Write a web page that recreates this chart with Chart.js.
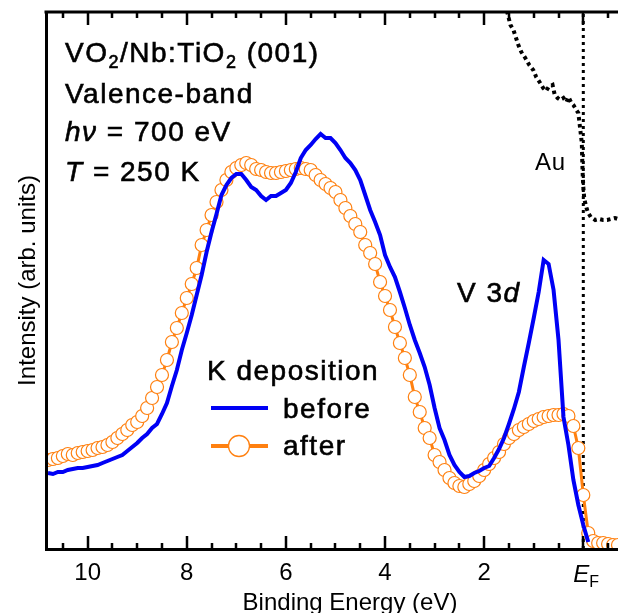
<!DOCTYPE html>
<html>
<head>
<meta charset="utf-8">
<script src="https://cdn.jsdelivr.net/npm/chart.js@4.4.1/dist/chart.umd.min.js"></script>
<style>
    html, body {margin: 0; padding: 0; background: #fff;}
</style>
</head>
<body>
<canvas id="vb-chart" width="618" height="613"></canvas>
<script>
// binding energy grid (eV) of the valence-band spectra
const energy = [10.8, 10.7, 10.6, 10.5, 10.4, 10.3, 10.2, 10.1, 10.0, 9.9, 9.8, 9.7, 9.6, 9.5, 9.4, 9.3, 9.2, 9.1, 9.0,
    8.9, 8.8, 8.7, 8.6, 8.5, 8.4, 8.3, 8.2, 8.1, 8.0, 7.9, 7.8, 7.7, 7.6, 7.5, 7.4, 7.3, 7.2, 7.1, 7.0,
    6.9, 6.8, 6.7, 6.6, 6.5, 6.4, 6.3, 6.2, 6.1, 6.0, 5.9, 5.8, 5.7, 5.6, 5.5, 5.4, 5.3, 5.2, 5.1, 5.0,
    4.9, 4.8, 4.7, 4.6, 4.5, 4.4, 4.3, 4.2, 4.1, 4.0, 3.9, 3.8, 3.7, 3.6, 3.5, 3.4, 3.3, 3.2, 3.1, 3.0,
    2.9, 2.8, 2.7, 2.6, 2.5, 2.4, 2.3, 2.2, 2.1, 2.0, 1.9, 1.8, 1.7, 1.6, 1.5, 1.4, 1.3, 1.2, 1.1, 1.0,
    0.9, 0.8, 0.7, 0.6, 0.5, 0.4, 0.3, 0.2, 0.1, 0.0, -0.1, -0.2, -0.3, -0.4, -0.5, -0.6, -0.7];

// intensity before K deposition (ends at -0.1 eV)
const beforeK = [76, 75, 77, 77, 79, 80, 81, 81, 82, 83, 84, 86, 88, 90, 92, 94, 98, 102, 106,
    111, 115, 121, 125, 135, 146, 163, 179, 199, 216, 234, 254, 274, 297, 317, 335, 354, 364, 371, 375,
    375, 369, 362, 359, 353, 349, 353, 353, 356, 359, 366, 377, 391, 399, 404, 410, 415, 411, 411, 406,
    399, 391, 386, 379, 369, 354, 339, 327, 314, 294, 282, 272, 257, 241, 224, 209, 196, 182, 164, 141,
    121, 109, 94, 84, 77, 72, 73, 76, 78, 81, 83, 91, 100, 111, 125, 140, 157, 182, 206, 231,
    257, 289, 285, 259, 209, 132, 104, 69, 44, 24, 7];

// intensity after K deposition
const afterK = [89, 90, 91, 93, 95, 94, 96, 97, 98, 99, 101, 102, 104, 107, 111, 115, 119, 124, 127,
    133, 141, 151, 162, 174, 189, 207, 221, 236, 251, 265, 281, 304, 319, 334, 347, 359, 369, 377, 381,
    384, 386, 384, 380, 379, 377, 376, 376, 377, 378, 379, 380, 381, 380, 379, 374, 369, 365, 361, 357,
    349, 341, 333, 325, 317, 304, 296, 285, 267, 253, 239, 222, 206, 191, 174, 152, 137, 121, 111, 94,
    87, 79, 71, 66, 63, 62, 65, 68, 73, 79, 85, 91, 97, 105, 111, 115, 119, 122, 125, 128,
    130, 132, 133, 134, 134, 135, 133, 123, 101, 54, 16, 8, 6, 6, 5, 4, 4];

// Au reference edge
const auEnergy = [1.56, 1.53, 1.47, 1.41, 1.35, 1.31, 1.25, 1.17, 1.09, 1.01, 0.95, 0.87, 0.81, 0.75, 0.70,
    0.62, 0.58, 0.52, 0.46, 0.40, 0.34, 0.30, 0.24, 0.20, 0.14, 0.10, 0.06, 0.03, 0.02, 0.01, 0.0,
    -0.02, -0.04, -0.07, -0.10, -0.15, -0.24, -0.32, -0.40, -0.48, -0.56, -0.64, -0.70];
const auIntensity = [545, 536, 524, 519, 510, 504, 497, 491, 484, 479, 472, 466, 461, 458, 462,
    464, 455, 451, 449, 451, 447, 452, 446, 444, 439, 436, 419, 406, 386, 372, 362,
    350, 346, 340, 336, 332, 329, 330, 329, 329, 330, 331, 330];

const xTickValues = [10, 8, 6, 4, 2, 0];
const xMinorTicks = [10.5, 10, 9.5, 9, 8.5, 8, 7.5, 7, 6.5, 6, 5.5, 5, 4.5, 4, 3.5, 3, 2.5, 2, 1.5, 1, 0.5, 0, -0.5];

const FONT = '"Liberation Sans", Arial, Helvetica, sans-serif';
const blueColor = '#0000f5';
const orangeColor = '#ff8010';

function toPoints(xs, ys) {
    return ys.map((y, i) => ({x: xs[i], y: y}));
}

// draws mixed italic / subscript text, optional faux-medium stroke
function drawRich(ctx, x, y, parts, size, heavy) {
    ctx.textAlign = 'left';
    ctx.textBaseline = 'alphabetic';
    ctx.lineWidth = heavy ? 0.6 : 0;
    ctx.strokeStyle = '#000';
    parts.forEach(p => {
        const s = p.sub ? Math.round(size * 0.66) : size;
        ctx.font = (p.italic ? 'italic ' : '') + s + 'px ' + FONT;
        const yy = y + (p.sub ? size * 0.22 : 0);
        ctx.fillText(p.t, x, yy);
        if (heavy) ctx.strokeText(p.t, x, yy);
        x += ctx.measureText(p.t).width;
    });
}

const frameAndText = {
    id: 'frameAndText',
    afterDraw(chart) {
        const {ctx, chartArea: a, scales: {x}} = chart;
        ctx.save();
        ctx.strokeStyle = '#000';
        ctx.fillStyle = '#000';

        // top frame line
        ctx.lineWidth = 3;
        ctx.beginPath();
        ctx.moveTo(a.left - 1.5, a.top);
        ctx.lineTo(a.right, a.top);
        ctx.stroke();

        // inward ticks on top and bottom
        ctx.lineWidth = 2.5;
        xMinorTicks.forEach(v => {
            const px = Math.round(x.getPixelForValue(v));
            const len = xTickValues.includes(v) ? 13 : 6;
            ctx.beginPath();
            ctx.moveTo(px, a.bottom);
            ctx.lineTo(px, a.bottom - len);
            ctx.moveTo(px, a.top);
            ctx.lineTo(px, a.top + len);
            ctx.stroke();
        });

        // E_F tick label
        const efX = x.getPixelForValue(0);
        drawRich(ctx, efX - 10, 582, [{t: 'E', italic: true}, {t: 'F', sub: true}], 24);

        // x axis title
        ctx.font = '24px ' + FONT;
        ctx.textAlign = 'center';
        ctx.fillText('Binding Energy (eV)', 350, 610);

        // annotations
        ctx.letterSpacing = '1.5px';
        drawRich(ctx, 65, 62, [{t: 'VO'}, {t: '2', sub: true}, {t: '/Nb:TiO'}, {t: '2', sub: true}, {t: ' (001)'}], 28, true);
        drawRich(ctx, 65, 103, [{t: 'Valence-band'}], 28, true);
        drawRich(ctx, 65, 141, [{t: 'h', italic: true}, {t: 'ν', italic: true}, {t: ' = 700 eV'}], 28, true);
        drawRich(ctx, 65, 181, [{t: 'T', italic: true}, {t: ' = 250 K'}], 28, true);
        drawRich(ctx, 457, 302, [{t: 'V 3'}, {t: 'd', italic: true}], 28, true);
        ctx.letterSpacing = '0.8px';
        drawRich(ctx, 535, 170, [{t: 'Au'}], 24, false);

        // legend
        const ds = chart.data.datasets;
        ctx.letterSpacing = '1.5px';
        drawRich(ctx, 207, 380, [{t: 'K deposition'}], 28, true);
        ctx.letterSpacing = '0px';
        ctx.lineWidth = 4;
        ctx.strokeStyle = ds[0].borderColor;
        ctx.beginPath();
        ctx.moveTo(211, 408);
        ctx.lineTo(268, 408);
        ctx.stroke();
        ctx.strokeStyle = ds[1].borderColor;
        ctx.beginPath();
        ctx.moveTo(211, 446);
        ctx.lineTo(268, 446);
        ctx.stroke();
        ctx.lineWidth = 1.3;
        ctx.fillStyle = '#fff';
        ctx.strokeStyle = ds[1].pointBorderColor;
        ctx.beginPath();
        ctx.arc(239, 446, 10.5, 0, Math.PI * 2);
        ctx.fill();
        ctx.stroke();
        ctx.fillStyle = '#000';
        ctx.letterSpacing = '1.5px';
        drawRich(ctx, 283, 418, [{t: ds[0].label}], 28, true);
        drawRich(ctx, 283, 455, [{t: ds[1].label}], 28, true);
        ctx.restore();
    }
};

new Chart(document.getElementById('vb-chart'), {
    type: 'line',
    data: {
        datasets: [
            {
                label: 'before',
                data: toPoints(energy, beforeK),
                borderColor: blueColor,
                borderWidth: 4,
                pointRadius: 0,
                tension: 0
            },
            {
                label: 'after',
                data: toPoints(energy, afterK),
                borderColor: orangeColor,
                borderWidth: 3,
                pointRadius: 6.5,
                pointBorderWidth: 1.2,
                pointBorderColor: orangeColor,
                pointBackgroundColor: '#fff',
                tension: 0
            },
            {
                label: 'Au',
                data: toPoints(auEnergy, auIntensity),
                borderColor: '#000',
                borderWidth: 4,
                borderDash: [3.5, 3.5],
                pointRadius: 0,
                tension: 0
            },
            {
                label: 'EF',
                data: [{x: 0, y: 0}, {x: 0, y: 537}],
                borderColor: '#000',
                borderWidth: 3,
                borderDash: [3, 4],
                pointRadius: 0
            }
        ]
    },
    options: {
        responsive: false,
        animation: false,
        layout: {autoPadding: false, padding: {top: 12, right: 0, bottom: 0, left: 0}},
        scales: {
            x: {
                type: 'linear',
                reverse: true,
                min: -0.7,
                max: 10.84,
                afterBuildTicks: scale => {
                    scale.ticks = xTickValues.map(v => ({value: v}));
                },
                afterFit: scale => {
                    scale.height = 64;
                },
                grid: {display: false, drawTicks: false},
                border: {display: true, color: '#000', width: 3, z: 1},
                ticks: {
                    autoSkip: false,
                    maxRotation: 0,
                    padding: 10,
                    color: '#000',
                    font: {family: FONT, size: 24, lineHeight: 1.2},
                    callback: v => (v === 0 ? '' : String(v))
                },
                title: {display: false}
            },
            y: {
                min: 0,
                max: 537,
                afterFit: scale => {
                    scale.width = 46;
                },
                grid: {display: false, drawTicks: false},
                border: {display: true, color: '#000', width: 3, z: 1},
                ticks: {display: false},
                title: {
                    display: true,
                    text: 'Intensity (arb. units)',
                    color: '#000',
                    font: {family: FONT, size: 24, lineHeight: 1},
                    padding: {top: 16, bottom: 0}
                }
            }
        },
        plugins: {
            legend: {display: false},
            tooltip: {enabled: false}
        }
    },
    plugins: [frameAndText]
});
</script>
</body>
</html>
